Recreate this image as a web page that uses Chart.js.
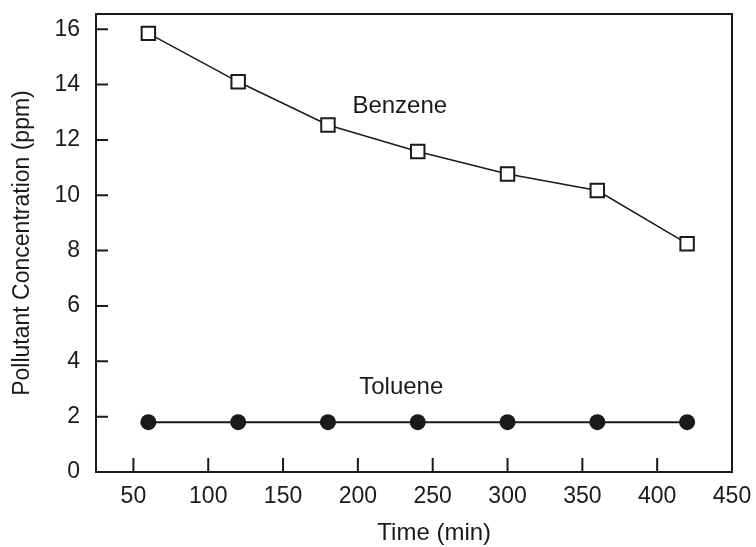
<!DOCTYPE html>
<html lang="en">
<head>
  <meta charset="UTF-8">
  <title>Pollutant Concentration</title>
  <style>
    body { margin: 0; background: #fff; }
    .chart-container { width: 756px; height: 547px; }
  </style>
</head>
<body>
  <div class="chart-container">
    <canvas id="lineChart"></canvas>
  </div>

  <script src="https://cdn.jsdelivr.net/npm/chart.js"></script>
  <script>
    // Data
    const times = [60, 120, 180, 240, 300, 360, 420];
    const benzene = [15.85, 14.1, 12.54, 11.58, 10.77, 10.17, 8.25];
    const toluene = [1.8, 1.8, 1.8, 1.8, 1.8, 1.8, 1.8];
    const xTicks = [50, 100, 150, 200, 250, 300, 350, 400, 450];
    const yTicks = [0, 2, 4, 6, 8, 10, 12, 14, 16];
    const seriesLabels = [
      { text: 'Benzene', x: 228, y: 13.2 },
      { text: 'Toluene', x: 229, y: 3.07 }
    ];
    const xTitle = 'Time (min)';

    const ink = '#1a1a1a';
    const fontFamily = '"Liberation Sans", Arial, sans-serif';

    // Frame, inward ticks, x title and in-plot series names
    const framePlugin = {
      id: 'frame',
      afterDatasetsDraw(chart) {
        const { ctx, chartArea: a, scales: { x, y } } = chart;
        ctx.save();
        ctx.strokeStyle = ink;
        ctx.lineWidth = 2;
        ctx.strokeRect(a.left, a.top, a.right - a.left, a.bottom - a.top);

        ctx.beginPath();
        xTicks.forEach(v => {
          if (v >= 450) return;
          const px = x.getPixelForValue(v);
          ctx.moveTo(px, a.bottom);
          ctx.lineTo(px, a.bottom - 14);
        });
        yTicks.forEach(v => {
          if (v <= 0) return;
          const py = y.getPixelForValue(v);
          ctx.moveTo(a.left, py);
          ctx.lineTo(a.left + 12, py);
        });
        ctx.stroke();

        ctx.fillStyle = ink;
        ctx.font = '24px ' + fontFamily;
        ctx.textAlign = 'center';
        ctx.textBaseline = 'middle';
        seriesLabels.forEach(l => {
          ctx.fillText(l.text, x.getPixelForValue(l.x), y.getPixelForValue(l.y));
        });
        // x title sits a little right of the plot centre in the original
        ctx.fillText(xTitle, x.getPixelForValue(251), a.bottom + 61);
        ctx.restore();
      }
    };

    const ctx = document.getElementById('lineChart').getContext('2d');
    new Chart(ctx, {
      type: 'line',
      data: {
        datasets: [
          {
            label: 'Benzene',
            data: times.map((t, i) => ({ x: t, y: benzene[i] })),
            borderColor: ink,
            borderWidth: 1.5,
            pointStyle: 'rect',
            pointRadius: 9.5,
            pointBorderWidth: 2,
            pointBackgroundColor: '#fff',
            pointBorderColor: ink,
            tension: 0
          },
          {
            label: 'Toluene',
            data: times.map((t, i) => ({ x: t, y: toluene[i] })),
            borderColor: ink,
            borderWidth: 2,
            pointStyle: 'circle',
            pointRadius: 8,
            pointBorderWidth: 0,
            pointBackgroundColor: ink,
            tension: 0
          }
        ]
      },
      options: {
        responsive: true,
        maintainAspectRatio: false,
        animation: false,
        layout: { padding: { top: 14, right: 24, left: 0, bottom: 0 } },
        plugins: {
          legend: { display: false },
          tooltip: { enabled: false }
        },
        scales: {
          x: {
            type: 'linear',
            min: 25,
            max: 450,
            afterBuildTicks: s => { s.ticks = xTicks.map(v => ({ value: v })); },
            afterFit: s => { s.height = 75; s.paddingLeft = 0; s.paddingRight = 0; },
            grid: { display: false, drawTicks: false },
            border: { display: false },
            ticks: {
              color: ink,
              padding: 11,
              maxRotation: 0,
              font: { family: fontFamily, size: 23 }
            }
          },
          y: {
            min: 0,
            max: 16.55,
            afterBuildTicks: s => { s.ticks = yTicks.map(v => ({ value: v })); },
            afterFit: s => { s.width = 96; s.paddingTop = 0; s.paddingBottom = 0; },
            grid: { display: false, drawTicks: false },
            border: { display: false },
            ticks: {
              color: ink,
              padding: 16,
              font: { family: fontFamily, size: 23 }
            },
            title: {
              display: true,
              text: 'Pollutant Concentration (ppm)',
              color: ink,
              font: { family: fontFamily, size: 23 },
              padding: { top: 9, bottom: 0 }
            }
          }
        }
      },
      plugins: [framePlugin]
    });
  </script>
</body>
</html>
